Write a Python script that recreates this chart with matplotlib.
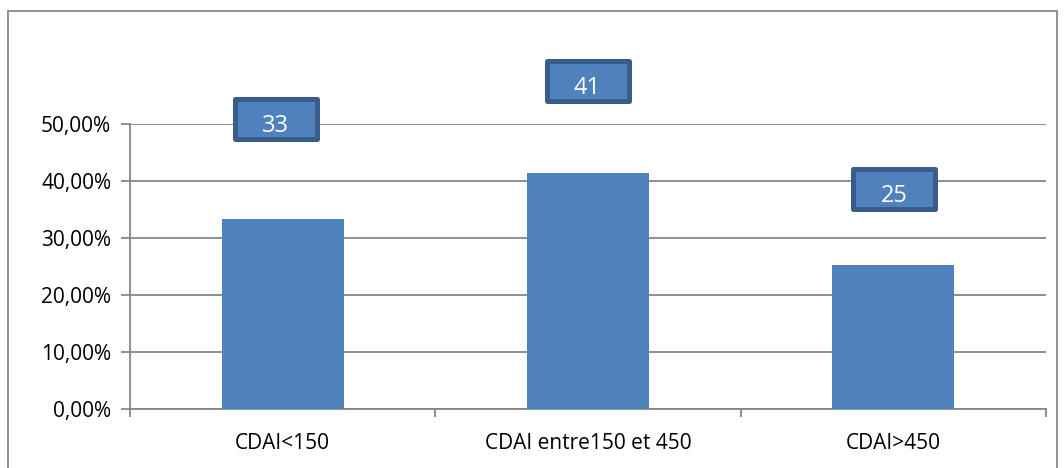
import matplotlib
matplotlib.use("Agg")
import matplotlib.pyplot as plt
from matplotlib.patches import Rectangle
from matplotlib.ticker import FuncFormatter, FixedLocator

categories = ["CDAI<150", "CDAI entre150 et 450", "CDAI>450"]
values = [0.333, 0.414, 0.253]
labels = ["33", "41", "25"]
label_y = [0.5096, 0.5754, 0.3851]
label_dx = [-0.023, -0.0015, 0.0025]

plt.rcParams['font.family'] = ['Open Sans', 'DejaVu Sans']

fig = plt.figure(figsize=(10.64, 4.68), dpi=100)
ax = fig.add_axes([130/1064, 1-409/468, (1046-130)/1064, (409-124)/468])

x = list(range(len(categories)))
ax.bar(x, values, width=0.4, color="#4F81BD", zorder=3)
ax.set_xlim(-0.5, 2.5)
ax.set_ylim(0, 0.5)

ax.yaxis.set_major_locator(FixedLocator([0, 0.1, 0.2, 0.3, 0.4, 0.5]))
ax.yaxis.set_major_formatter(FuncFormatter(lambda v, p: f"{v*100:.2f}%".replace(".", ",")))
ax.set_xticks([-0.5, 0.5, 1.5, 2.5])
ax.set_xticklabels([])
ax.set_xticks(x, minor=True)
ax.set_xticklabels(categories, minor=True)
ax.tick_params(axis='x', which='minor', length=0, pad=17, labelsize=15)
ax.tick_params(axis='x', which='major', length=6, width=1.3, color="#868686")
ax.tick_params(axis='y', length=6.5, width=1.3, color="#868686", labelsize=15, pad=7)
ax.grid(axis='y', color="#868686", linewidth=1.3, zorder=0)
for s in ['top', 'right']:
    ax.spines[s].set_visible(False)
for s in ['left', 'bottom']:
    ax.spines[s].set_color("#868686")
    ax.spines[s].set_linewidth(1.3)

# box size in pixels -> data units
bw = 82 / 305.3
bh = 40 / 570.0
for xi, lab, ly, dx in zip(x, labels, label_y, label_dx):
    cx = xi + dx
    r = Rectangle((cx - bw/2, ly - bh/2), bw, bh, fc="#4F81BD", ec="#385D8A", lw=3.6,
                  joinstyle='round', clip_on=False, zorder=5)
    ax.add_patch(r)
    ax.text(cx, ly - 7/570, lab, ha='center', va='center', color='white', fontsize=17,
            clip_on=False, zorder=6)

fig.patches.append(Rectangle((8/1064, -0.1), (1057-8)/1064, 1-11/468+0.1, transform=fig.transFigure,
                             fill=False, ec="#878787", lw=1.3))

fig.savefig("out.png", dpi=100)
